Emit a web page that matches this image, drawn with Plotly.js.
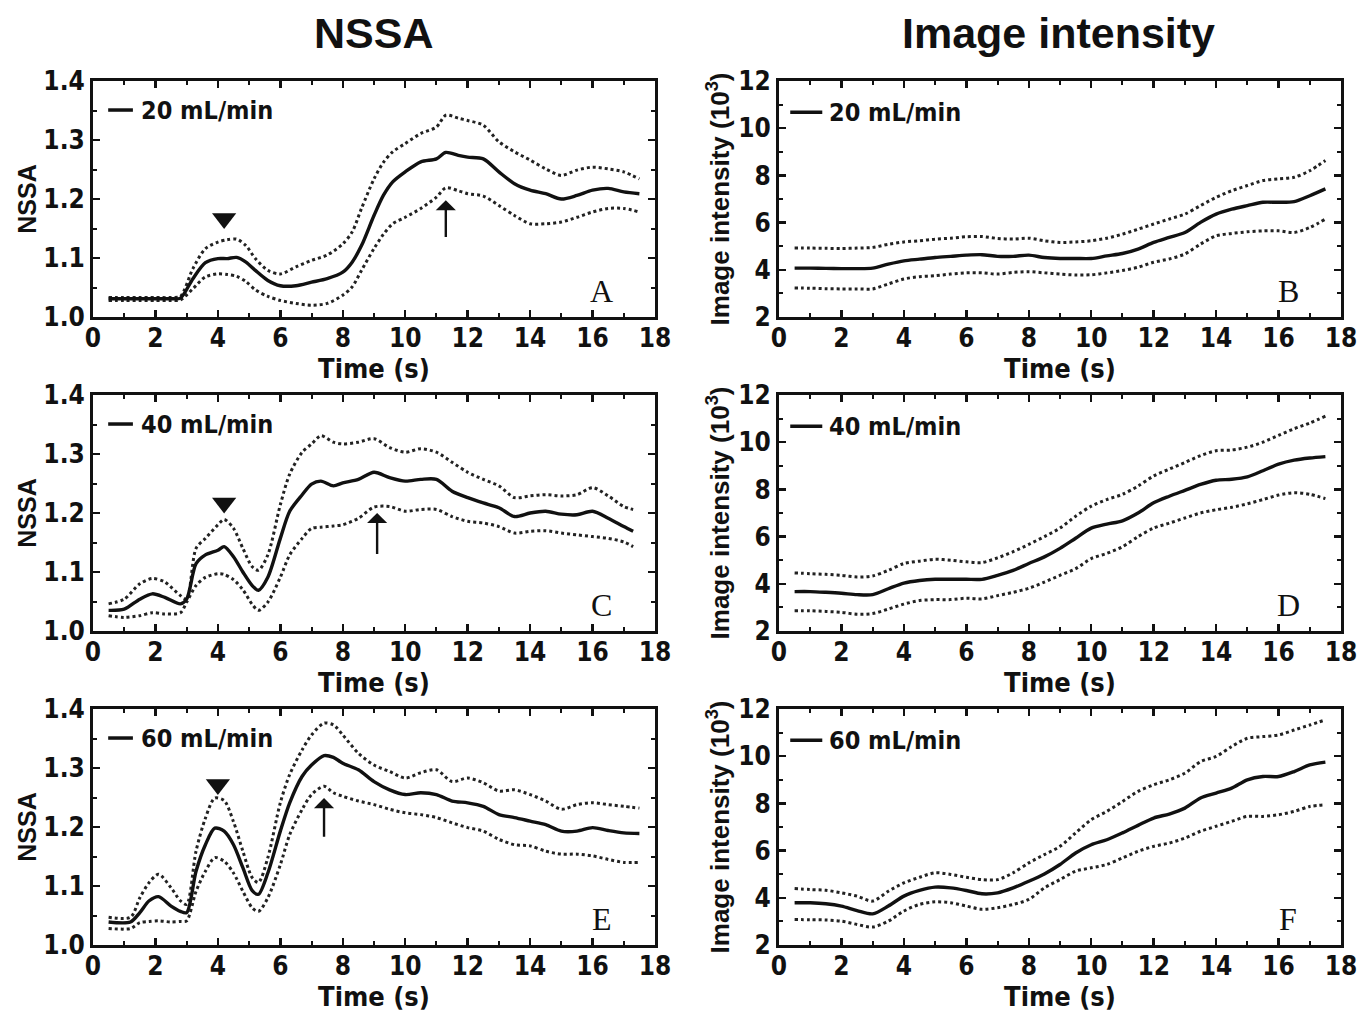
<!DOCTYPE html>
<html>
<head>
<meta charset="utf-8">
<script src="https://cdn.plot.ly/plotly-3.0.1.min.js"></script>
<style>html,body{margin:0;padding:0;background:#fff;}</style>
</head>
<body>
<div id="chart" style="width:1359px;height:1013px;"></div>
<script>
// ---------- data ----------
const xA = [0.5,1,1.5,2,2.5,2.8,3.2,3.6,4,4.3,4.6,4.9,5.2,5.6,6,6.5,7,7.5,8,8.3,8.6,9,9.3,9.6,10,10.5,11,11.3,11.7,12,12.5,13,13.5,14,14.5,15,15.5,16,16.5,17,17.5];
const meanA = [1.031,1.031,1.031,1.031,1.031,1.032,1.065,1.092,1.099,1.099,1.101,1.093,1.079,1.062,1.053,1.053,1.059,1.065,1.076,1.093,1.121,1.172,1.206,1.229,1.246,1.263,1.268,1.279,1.274,1.271,1.268,1.246,1.226,1.215,1.209,1.2,1.206,1.215,1.218,1.212,1.209];
const upperA = [1.033,1.033,1.033,1.033,1.033,1.035,1.082,1.116,1.127,1.131,1.132,1.121,1.099,1.079,1.073,1.085,1.096,1.105,1.124,1.144,1.184,1.234,1.262,1.28,1.294,1.311,1.322,1.342,1.337,1.333,1.325,1.297,1.28,1.266,1.251,1.24,1.249,1.254,1.251,1.246,1.234];
const lowerA = [1.028,1.028,1.028,1.028,1.028,1.029,1.048,1.068,1.073,1.072,1.069,1.06,1.046,1.035,1.028,1.023,1.02,1.023,1.037,1.051,1.079,1.116,1.14,1.158,1.169,1.184,1.203,1.219,1.214,1.209,1.205,1.189,1.172,1.158,1.158,1.161,1.169,1.178,1.184,1.184,1.178];

const xC = [0.5,1,1.5,1.9,2.3,2.8,3,3.3,3.6,4,4.2,4.5,4.8,5.1,5.3,5.6,6,6.3,6.7,7,7.3,7.7,8,8.5,9,9.5,10,10.5,11,11.5,12,12.5,13,13.5,14,14.5,15,15.5,16,16.5,17,17.3];
const meanC = [1.035,1.037,1.054,1.063,1.057,1.046,1.054,1.114,1.129,1.137,1.143,1.126,1.1,1.077,1.069,1.091,1.157,1.203,1.231,1.249,1.254,1.246,1.251,1.257,1.269,1.26,1.254,1.257,1.257,1.237,1.226,1.217,1.209,1.194,1.2,1.203,1.198,1.197,1.203,1.191,1.177,1.169];
const upperC = [1.046,1.054,1.08,1.089,1.083,1.06,1.054,1.14,1.157,1.18,1.189,1.174,1.14,1.109,1.103,1.129,1.214,1.266,1.303,1.317,1.331,1.32,1.317,1.32,1.326,1.311,1.303,1.309,1.303,1.286,1.269,1.257,1.246,1.226,1.229,1.231,1.229,1.231,1.243,1.229,1.211,1.206];
const lowerC = [1.026,1.023,1.026,1.031,1.029,1.031,1.049,1.077,1.091,1.097,1.096,1.087,1.07,1.045,1.035,1.049,1.091,1.129,1.157,1.174,1.176,1.178,1.18,1.191,1.21,1.211,1.203,1.206,1.206,1.194,1.186,1.183,1.177,1.166,1.169,1.17,1.166,1.163,1.16,1.157,1.151,1.143];

const xE = [0.5,1.2,1.5,1.8,2.1,2.5,2.8,3,3.3,3.6,3.9,4.2,4.5,4.8,5.1,5.3,5.6,6,6.3,6.7,7,7.4,7.7,8,8.5,9,9.5,10,10.5,11,11.5,12,12.5,13,13.5,14,14.5,15,15.5,16,16.5,17,17.5];
const meanE = [1.039,1.039,1.055,1.075,1.082,1.066,1.057,1.055,1.125,1.17,1.198,1.193,1.17,1.131,1.092,1.086,1.122,1.193,1.241,1.286,1.305,1.321,1.318,1.308,1.297,1.277,1.263,1.255,1.258,1.255,1.244,1.241,1.235,1.221,1.216,1.21,1.204,1.193,1.193,1.199,1.194,1.19,1.189];
const upperE = [1.047,1.047,1.08,1.106,1.12,1.097,1.075,1.069,1.159,1.215,1.249,1.245,1.209,1.159,1.114,1.106,1.148,1.241,1.289,1.331,1.356,1.376,1.373,1.356,1.325,1.305,1.294,1.283,1.292,1.297,1.277,1.283,1.275,1.261,1.263,1.255,1.244,1.23,1.238,1.241,1.238,1.235,1.232];
const lowerE = [1.028,1.028,1.038,1.04,1.041,1.039,1.04,1.041,1.091,1.125,1.148,1.142,1.122,1.091,1.063,1.057,1.08,1.136,1.187,1.23,1.255,1.269,1.258,1.252,1.244,1.238,1.23,1.224,1.221,1.216,1.207,1.199,1.193,1.179,1.17,1.168,1.159,1.154,1.154,1.151,1.145,1.14,1.14];

const xI = [0.5,1,1.5,2,2.5,3,3.5,4,4.5,5,5.5,6,6.5,7,7.5,8,8.5,9,9.5,10,10.5,11,11.5,12,12.5,13,13.5,14,14.5,15,15.5,16,16.5,17,17.5];
const meanB = [4.07,4.07,4.06,4.05,4.05,4.07,4.24,4.38,4.45,4.52,4.57,4.62,4.64,4.57,4.57,4.62,4.52,4.48,4.48,4.48,4.59,4.69,4.88,5.16,5.37,5.58,6.01,6.36,6.57,6.72,6.86,6.86,6.89,7.14,7.43];
const upperB = [4.92,4.92,4.91,4.9,4.92,4.95,5.08,5.18,5.23,5.3,5.34,5.4,5.41,5.33,5.3,5.34,5.23,5.16,5.18,5.23,5.34,5.51,5.72,5.94,6.15,6.36,6.72,7.07,7.35,7.57,7.78,7.85,7.92,8.2,8.63];
const lowerB = [3.23,3.22,3.2,3.19,3.19,3.19,3.4,3.61,3.71,3.75,3.82,3.87,3.87,3.82,3.89,3.92,3.87,3.82,3.78,3.79,3.87,3.97,4.11,4.32,4.46,4.67,5.09,5.44,5.54,5.61,5.65,5.65,5.58,5.79,6.15];
const meanD = [3.67,3.67,3.64,3.6,3.54,3.54,3.79,4.03,4.14,4.19,4.19,4.19,4.19,4.36,4.57,4.86,5.14,5.5,5.93,6.36,6.53,6.67,7.0,7.43,7.71,7.96,8.21,8.39,8.43,8.53,8.79,9.07,9.24,9.33,9.39];
const upperD = [4.46,4.43,4.4,4.36,4.29,4.33,4.57,4.86,4.96,5.04,5.0,4.93,4.9,5.1,5.36,5.67,6.0,6.36,6.86,7.29,7.57,7.79,8.14,8.57,8.86,9.14,9.43,9.64,9.67,9.79,10.0,10.29,10.57,10.81,11.1];
const lowerD = [2.86,2.86,2.83,2.79,2.71,2.74,2.93,3.14,3.29,3.33,3.33,3.39,3.36,3.5,3.64,3.81,4.07,4.36,4.64,5.07,5.29,5.57,6.0,6.36,6.57,6.79,7.0,7.14,7.24,7.39,7.57,7.76,7.86,7.79,7.61];
const meanF = [3.79,3.79,3.75,3.65,3.46,3.32,3.65,4.07,4.31,4.45,4.42,4.31,4.17,4.21,4.42,4.7,5.01,5.41,5.9,6.25,6.46,6.75,7.07,7.38,7.55,7.8,8.23,8.44,8.65,9.0,9.14,9.14,9.35,9.63,9.75];
const upperF = [4.39,4.35,4.32,4.21,4.07,3.86,4.28,4.63,4.87,5.06,4.99,4.87,4.77,4.77,5.06,5.48,5.83,6.18,6.75,7.31,7.66,8.08,8.51,8.79,9.0,9.28,9.77,9.99,10.41,10.76,10.83,10.9,11.11,11.32,11.54];
const lowerF = [3.08,3.07,3.06,3.01,2.87,2.76,3.01,3.44,3.72,3.83,3.79,3.65,3.51,3.58,3.72,3.93,4.42,4.77,5.13,5.27,5.41,5.69,5.97,6.18,6.32,6.53,6.82,7.03,7.24,7.45,7.45,7.52,7.66,7.87,7.94];

// triangle markers (x, y) for NSSA panels A, C, E
const triX = [4.2, 4.2, 4.0];
const triY = [1.167, 1.217, 1.272];
// upward arrows: x, head y, tail y
const arrX = [11.3, 9.1, 7.4];
const arrHead = [1.198, 1.2, 1.249];
const arrTail = [1.133, 1.128, 1.181];

const flowLabels = ['20 mL/min', '40 mL/min', '60 mL/min'];
const panelLetters = ['A','B','C','D','E','F'];
const colTitles = ['NSSA', 'Image intensity'];

// ---------- build ----------
const W = 1359, H = 1013;
const colPx = [[93, 655], [779, 1341]];
const rowPx = [[81, 317], [395, 631], [709, 945]];

const nssa = [[xA, meanA, upperA, lowerA], [xC, meanC, upperC, lowerC], [xE, meanE, upperE, lowerE]];
const inten = [[xI, meanB, upperB, lowerB], [xI, meanD, upperD, lowerD], [xI, meanF, upperF, lowerF]];

const narrow = 'DejaVu Sans Condensed, Liberation Sans Narrow, Arial Narrow, sans-serif';
const tickFont = {family: narrow, size: 26, color: '#111', weight: 'bold'};
const titleFont = {family: 'Liberation Sans, Arial, sans-serif', size: 25, color: '#111', weight: 'bold'};
const titleFontI = {family: 'Liberation Sans, Arial, sans-serif', size: 26, color: '#111', weight: 'bold'};
const xTitleFont = {family: narrow, size: 27, color: '#111', weight: 'bold'};

const traces = [];
const layout = {
  width: W, height: H,
  margin: {l: 0, r: 0, t: 0, b: 0},
  paper_bgcolor: '#fff', plot_bgcolor: '#fff',
  showlegend: false,
  shapes: [], annotations: []
};

let k = 0;
for (let r = 0; r < 3; r++) {
  for (let c = 0; c < 2; c++) {
    k++;
    const sfx = k === 1 ? '' : String(k);
    const xa = 'x' + sfx, ya = 'y' + sfx;
    const set = c === 0 ? nssa[r] : inten[r];
    const [xs, m, u, l] = set;
    [u, l].forEach(arr => traces.push({
      x: xs, y: arr, xaxis: xa, yaxis: ya, type: 'scatter', mode: 'lines',
      line: {color: '#222', width: 3, dash: 'dot', shape: 'spline', smoothing: 0.8},
      hoverinfo: 'skip'
    }));
    traces.push({
      x: xs, y: m, xaxis: xa, yaxis: ya, type: 'scatter', mode: 'lines',
      line: {color: '#111', width: 3.4, shape: 'spline', smoothing: 0.8},
      name: flowLabels[r]
    });
    if (c === 0) {
      traces.push({
        x: [triX[r]], y: [triY[r]], xaxis: xa, yaxis: ya, type: 'scatter', mode: 'markers',
        marker: {symbol: 'triangle-down', size: 21, color: '#111'}, hoverinfo: 'skip'
      });
      layout.annotations.push({
        xref: xa, yref: ya, axref: xa, ayref: ya,
        x: arrX[r], y: arrHead[r], ax: arrX[r], ay: arrTail[r],
        showarrow: true, arrowhead: 1, arrowsize: 1.4, arrowwidth: 2.4, arrowcolor: '#111', text: ''
      });
    }
    const [x0, x1] = colPx[c];
    const [yt, yb] = rowPx[r];
    const xaxis = {
      domain: [x0 / W, x1 / W], anchor: ya,
      range: [0, 18], tickvals: [0,2,4,6,8,10,12,14,16,18],
      minor: {dtick: 1, ticks: 'inside', ticklen: 4, tickwidth: 2, tickcolor: '#111'},
      ticks: 'inside', ticklen: 7, tickwidth: 2.5, tickcolor: '#111',
      showline: true, linewidth: 3, linecolor: '#111', mirror: 'ticks',
      showgrid: false, zeroline: false, tickfont: tickFont, ticklabelstandoff: -4,
      title: {text: 'Time (s)', font: xTitleFont, standoff: 0}
    };
    const yaxis = {
      domain: [(H - yb) / H, (H - yt) / H], anchor: xa,
      range: c === 0 ? [1.0, 1.4] : [2, 12],
      tickvals: c === 0 ? [1.0,1.1,1.2,1.3,1.4] : [2,4,6,8,10,12],
      ticktext: c === 0 ? ['1.0','1.1','1.2','1.3','1.4'] : undefined,
      minor: {dtick: c === 0 ? 0.05 : 1, ticks: 'inside', ticklen: 4, tickwidth: 2, tickcolor: '#111'},
      ticks: 'inside', ticklen: 7, tickwidth: 2.5, tickcolor: '#111',
      showline: true, linewidth: 3, linecolor: '#111', mirror: 'ticks',
      showgrid: false, zeroline: false, tickfont: tickFont,
      title: {text: c === 0 ? 'NSSA' : 'Image intensity (10<sup>3</sup>)', font: c === 0 ? titleFont : titleFontI, standoff: c === 0 ? 0 : 2}
    };
    layout['xaxis' + sfx] = xaxis;
    layout['yaxis' + sfx] = yaxis;

    // legend sample
    const legY = c === 0 ? 0.877 : 0.868;
    layout.shapes.push({
      type: 'line', xref: xa + ' domain', yref: ya + ' domain',
      x0: c === 0 ? 0.027 : 0.02, x1: c === 0 ? 0.071 : 0.077, y0: legY, y1: legY,
      line: {color: '#111', width: 3.5}
    });
    layout.annotations.push({
      xref: xa + ' domain', yref: ya + ' domain', x: c === 0 ? 0.082 : 0.085, y: legY,
      xanchor: 'left', yanchor: 'middle', showarrow: false, text: flowLabels[r],
      font: {family: narrow, size: 25, color: '#111', weight: 'bold'}
    });
    // panel letter
    layout.annotations.push({
      xref: xa + ' domain', yref: ya + ' domain', x: c === 0 ? 0.905 : 0.906, y: 0.11,
      xanchor: 'center', yanchor: 'middle', showarrow: false, text: panelLetters[k - 1],
      font: {family: 'Liberation Serif, Times New Roman, serif', size: 32, color: '#111'}
    });
  }
}
// column titles
layout.annotations.push({xref: 'paper', yref: 'paper', x: 373 / W, y: 1 - 33 / H, xanchor: 'center', yanchor: 'middle',
  showarrow: false, text: colTitles[0], font: {family: 'Liberation Sans, Arial, sans-serif', size: 43, color: '#111', weight: 'bold'}});
layout.annotations.push({xref: 'paper', yref: 'paper', x: 1058 / W, y: 1 - 33 / H, xanchor: 'center', yanchor: 'middle',
  showarrow: false, text: colTitles[1], font: {family: 'Liberation Sans, Arial, sans-serif', size: 43, color: '#111', weight: 'bold'}});

Plotly.newPlot('chart', traces, layout, {staticPlot: true, displayModeBar: false});
</script>
</body>
</html>
